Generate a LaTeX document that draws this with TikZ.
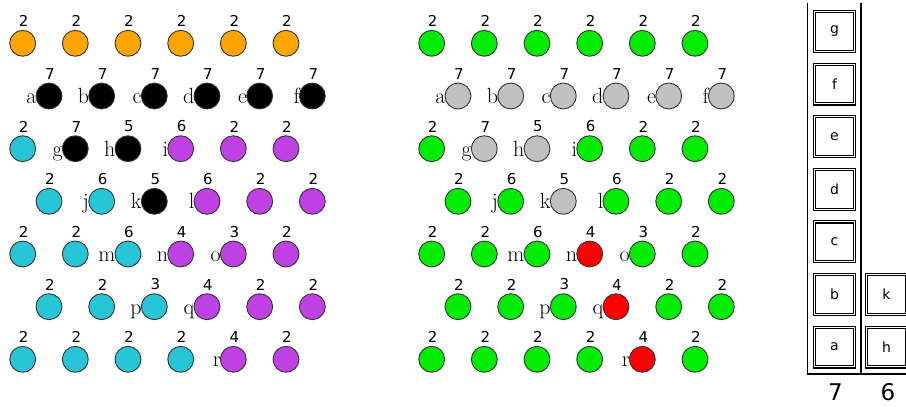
\documentclass[tikz,border=0pt]{standalone}
\usepackage{fontspec}
\usepackage{tikz}
\newfontfamily\dejavu{DejaVu Sans}
\definecolor{orng}{RGB}{255,165,0}
\definecolor{cyn}{RGB}{38,198,214}
\definecolor{purp}{RGB}{191,64,227}
\definecolor{grn}{RGB}{0,236,0}
\definecolor{gry}{RGB}{192,192,192}
\definecolor{rd}{RGB}{255,0,0}
\definecolor{dotline}{RGB}{51,51,51}
\tikzset{
    dot/.style = {circle, draw = dotline, line width = 0.9pt, minimum size = 25.9pt, inner sep = 0pt, outer sep = 0pt},
    numlbl/.style = {font = \dejavu\fontsize{15}{15}\selectfont, inner sep = 0pt, yshift = 3.5pt, xshift = 1pt},
    ltrlbl/.style = {font = \fontsize{22}{22}\selectfont, inner sep = 0pt, anchor = base east, yshift = -7.3pt, xshift = 0.5pt},
    num/.style = {label = {[numlbl]above:#1}},
    ltr/.style = {label = {[ltrlbl]left:#1}},
    slot/.style = {draw, double, line width = 1.1pt, double distance = 1pt, minimum width = 39.8pt, minimum height = 39.8pt, inner sep = 0pt, font = \dejavu\fontsize{14}{14}\selectfont},
    wall/.style = {line width = 1.9pt}
}

\begin{document}
\begin{tikzpicture}[x = 1pt, y = -1pt, label distance = 0pt]
        \useasboundingbox (0,0) rectangle (906,407);

        \node[dot, fill = orng, num = 2] (L11) at (22.7,43.3) {};
        \node[dot, fill = orng, num = 2] (L12) at (75.3,43.3) {};
        \node[dot, fill = orng, num = 2] (L13) at (128,43.3) {};
        \node[dot, fill = orng, num = 2] (L14) at (180.7,43.3) {};
        \node[dot, fill = orng, num = 2] (L15) at (233.3,43.3) {};
        \node[dot, fill = orng, num = 2] (L16) at (286,43.3) {};

        \node[dot, fill = black, num = 7, ltr = a] (La) at (49,96) {};
        \node[dot, fill = black, num = 7, ltr = b] (Lb) at (101.7,96) {};
        \node[dot, fill = black, num = 7, ltr = c] (Lc) at (154.3,96) {};
        \node[dot, fill = black, num = 7, ltr = d] (Ld) at (207,96) {};
        \node[dot, fill = black, num = 7, ltr = e] (Le) at (259.7,96) {};
        \node[dot, fill = black, num = 7, ltr = f] (Lf) at (312.3,96) {};

        \node[dot, fill = cyn, num = 2] (L31) at (22.7,148.7) {};
        \node[dot, fill = black, num = 7, ltr = g] (Lg) at (75.3,148.7) {};
        \node[dot, fill = black, num = 5, ltr = h] (Lh) at (128,148.7) {};
        \node[dot, fill = purp, num = 6, ltr = i] (Li) at (180.7,148.7) {};
        \node[dot, fill = purp, num = 2] (L35) at (233.3,148.7) {};
        \node[dot, fill = purp, num = 2] (L36) at (286,148.7) {};

        \node[dot, fill = cyn, num = 2] (L41) at (49,201.3) {};
        \node[dot, fill = cyn, num = 6, ltr = j] (Lj) at (101.7,201.3) {};
        \node[dot, fill = black, num = 5, ltr = k] (Lk) at (154.3,201.3) {};
        \node[dot, fill = purp, num = 6, ltr = l] (Ll) at (207,201.3) {};
        \node[dot, fill = purp, num = 2] (L45) at (259.7,201.3) {};
        \node[dot, fill = purp, num = 2] (L46) at (312.3,201.3) {};

        \node[dot, fill = cyn, num = 2] (L51) at (22.7,254) {};
        \node[dot, fill = cyn, num = 2] (L52) at (75.3,254) {};
        \node[dot, fill = cyn, num = 6, ltr = m] (Lm) at (128,254) {};
        \node[dot, fill = purp, num = 4, ltr = n] (Ln) at (180.7,254) {};
        \node[dot, fill = purp, num = 3, ltr = o] (Lo) at (233.3,254) {};
        \node[dot, fill = purp, num = 2] (L56) at (286,254) {};

        \node[dot, fill = cyn, num = 2] (L61) at (49,306.7) {};
        \node[dot, fill = cyn, num = 2] (L62) at (101.7,306.7) {};
        \node[dot, fill = cyn, num = 3, ltr = p] (Lp) at (154.3,306.7) {};
        \node[dot, fill = purp, num = 4, ltr = q] (Lq) at (207,306.7) {};
        \node[dot, fill = purp, num = 2] (L65) at (259.7,306.7) {};
        \node[dot, fill = purp, num = 2] (L66) at (312.3,306.7) {};

        \node[dot, fill = cyn, num = 2] (L71) at (22.7,359.3) {};
        \node[dot, fill = cyn, num = 2] (L72) at (75.3,359.3) {};
        \node[dot, fill = cyn, num = 2] (L73) at (128,359.3) {};
        \node[dot, fill = cyn, num = 2] (L74) at (180.7,359.3) {};
        \node[dot, fill = purp, num = 4, ltr = r] (Lr) at (233.3,359.3) {};
        \node[dot, fill = purp, num = 2] (L76) at (286,359.3) {};

        \node[dot, fill = grn, num = 2] (R11) at (431.7,43.3) {};
        \node[dot, fill = grn, num = 2] (R12) at (484.3,43.3) {};
        \node[dot, fill = grn, num = 2] (R13) at (537,43.3) {};
        \node[dot, fill = grn, num = 2] (R14) at (589.7,43.3) {};
        \node[dot, fill = grn, num = 2] (R15) at (642.3,43.3) {};
        \node[dot, fill = grn, num = 2] (R16) at (695,43.3) {};

        \node[dot, fill = gry, num = 7, ltr = a] (Ra) at (458,96) {};
        \node[dot, fill = gry, num = 7, ltr = b] (Rb) at (510.7,96) {};
        \node[dot, fill = gry, num = 7, ltr = c] (Rc) at (563.3,96) {};
        \node[dot, fill = gry, num = 7, ltr = d] (Rd) at (616,96) {};
        \node[dot, fill = gry, num = 7, ltr = e] (Re) at (668.7,96) {};
        \node[dot, fill = gry, num = 7, ltr = f] (Rf) at (721.3,96) {};

        \node[dot, fill = grn, num = 2] (R31) at (431.7,148.7) {};
        \node[dot, fill = gry, num = 7, ltr = g] (Rg) at (484.3,148.7) {};
        \node[dot, fill = gry, num = 5, ltr = h] (Rh) at (537,148.7) {};
        \node[dot, fill = grn, num = 6, ltr = i] (Ri) at (589.7,148.7) {};
        \node[dot, fill = grn, num = 2] (R35) at (642.3,148.7) {};
        \node[dot, fill = grn, num = 2] (R36) at (695,148.7) {};

        \node[dot, fill = grn, num = 2] (R41) at (458,201.3) {};
        \node[dot, fill = grn, num = 6, ltr = j] (Rj) at (510.7,201.3) {};
        \node[dot, fill = gry, num = 5, ltr = k] (Rk) at (563.3,201.3) {};
        \node[dot, fill = grn, num = 6, ltr = l] (Rl) at (616,201.3) {};
        \node[dot, fill = grn, num = 2] (R45) at (668.7,201.3) {};
        \node[dot, fill = grn, num = 2] (R46) at (721.3,201.3) {};

        \node[dot, fill = grn, num = 2] (R51) at (431.7,254) {};
        \node[dot, fill = grn, num = 2] (R52) at (484.3,254) {};
        \node[dot, fill = grn, num = 6, ltr = m] (Rm) at (537,254) {};
        \node[dot, fill = rd, num = 4, ltr = n] (Rn) at (589.7,254) {};
        \node[dot, fill = grn, num = 3, ltr = o] (Ro) at (642.3,254) {};
        \node[dot, fill = grn, num = 2] (R56) at (695,254) {};

        \node[dot, fill = grn, num = 2] (R61) at (458,306.7) {};
        \node[dot, fill = grn, num = 2] (R62) at (510.7,306.7) {};
        \node[dot, fill = grn, num = 3, ltr = p] (Rp) at (563.3,306.7) {};
        \node[dot, fill = rd, num = 4, ltr = q] (Rq) at (616,306.7) {};
        \node[dot, fill = grn, num = 2] (R65) at (668.7,306.7) {};
        \node[dot, fill = grn, num = 2] (R66) at (721.3,306.7) {};

        \node[dot, fill = grn, num = 2] (R71) at (431.7,359.3) {};
        \node[dot, fill = grn, num = 2] (R72) at (484.3,359.3) {};
        \node[dot, fill = grn, num = 2] (R73) at (537,359.3) {};
        \node[dot, fill = grn, num = 2] (R74) at (589.7,359.3) {};
        \node[dot, fill = rd, num = 4, ltr = r] (Rr) at (642.3,359.3) {};
        \node[dot, fill = grn, num = 2] (R76) at (695,359.3) {};

        \draw [wall] (807.5,3) -- (807.5,374) -- (906,374);
        \draw [wall] (861,3) -- (861,374);

        \node[slot] (Sa) at (834.5,347) {a};
        \node[slot] (Sb) at (834.5,294.4) {b};
        \node[slot] (Sc) at (834.5,241.8) {c};
        \node[slot] (Sd) at (834.5,189.2) {d};
        \node[slot] (Se) at (834.5,136.6) {e};
        \node[slot] (Sf) at (834.5,84) {f};
        \node[slot] (Sg) at (834.5,31.4) {g};
        \node[slot] (Sh) at (886.5,347) {h};
        \node[slot] (Sk) at (886.5,294.4) {k};

        \node[font = \dejavu\fontsize{23}{23}\selectfont, anchor = base] (C7) at (835.5,400) {7};
        \node[font = \dejavu\fontsize{23}{23}\selectfont, anchor = base] (C6) at (888,400) {6};
    \end{tikzpicture}
\end{document}
